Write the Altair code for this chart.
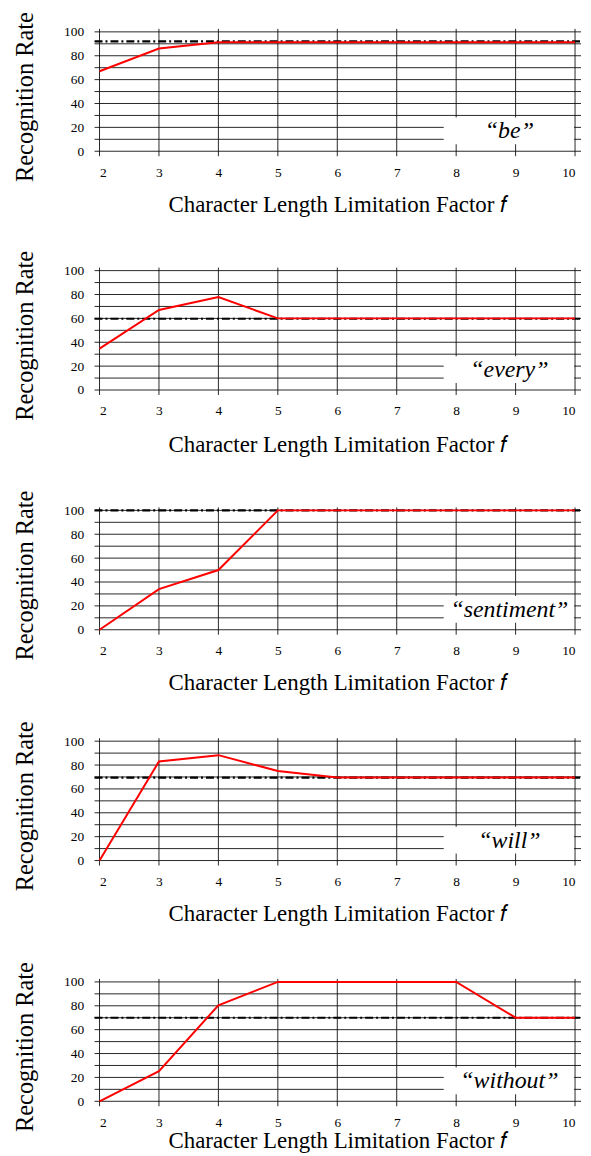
import altair as alt
import pandas as pd

# ---- data ----
f_values = [2, 3, 4, 5, 6, 7, 8, 9, 10]
words = ["be", "every", "sentiment", "will", "without"]
rate_be = [67, 86, 91.3, 91.3, 91.3, 91.3, 91.3, 91.3, 91.3]
rate_every = [34.7, 67, 77.8, 60, 60, 60, 60, 60, 60]
rate_sentiment = [0, 34, 50, 100, 100, 100, 100, 100, 100]
rate_will = [0, 83, 88.3, 75, 69.5, 69.5, 69.5, 69.5, 69.5]
rate_without = [0, 25.2, 80.4, 100, 100, 100, 100, 70, 70]
baselines = [92.1, 59.7, 100, 69.5, 70]
y_grid = [0, 10, 20, 30, 40, 50, 60, 70, 80, 90, 100]
y_tick_labels = [0, 20, 40, 60, 80, 100]

rates = [rate_be, rate_every, rate_sentiment, rate_will, rate_without]

W, H = 478, 120
FONT = "Liberation Serif"
x_title = "Character Length Limitation Factor 𝑓"
title_pads = [15, 16, 15, 15, 1]

xscale = alt.Scale(domain=[2, 10], nice=False, zero=False)
yscale = alt.Scale(domain=[0, 100], nice=False)


def panel(i):
    word = words[i]
    xaxis = alt.Axis(
        values=f_values, title=x_title, ticks=False, domain=False, grid=False,
        labelPadding=14, titlePadding=title_pads[i], titleFontSize=23,
    )
    yaxis = alt.Axis(
        values=y_tick_labels, title="Recognition Rate", ticks=False, domain=False,
        grid=False, labelPadding=16, titlePadding=26, titleFontSize=24.5,
        titleY=H / 2 + 5,
    )
    line_df = pd.DataFrame({"f": f_values, "rate": rates[i]})
    base_df = pd.DataFrame({"rate": [baselines[i]]})
    hgrid_df = pd.DataFrame({"rate": y_grid})
    vgrid_df = pd.DataFrame({"f": f_values})
    lab_df = pd.DataFrame({"label": ["\u201c" + word + "\u201d"]})

    hgrid = alt.Chart(hgrid_df).mark_rule(color="#111", strokeWidth=0.9).encode(
        y=alt.Y("rate:Q", scale=yscale, axis=yaxis),
        x=alt.value(-5), x2=alt.value(W + 6),
    )
    vgrid = alt.Chart(vgrid_df).mark_rule(color="#111", strokeWidth=0.9).encode(
        x=alt.X("f:Q", scale=xscale, axis=xaxis),
        y=alt.value(-3), y2=alt.value(H + 5),
    )
    base = alt.Chart(base_df).mark_rule(
        color="black", strokeWidth=2.2, strokeDash=[8, 3, 2, 3]
    ).encode(
        y=alt.Y("rate:Q", scale=yscale, axis=yaxis),
        x=alt.value(-5), x2=alt.value(W + 6),
    )
    line = alt.Chart(line_df).mark_line(color="#ff0000", strokeWidth=2).encode(
        x=alt.X("f:Q", scale=xscale, axis=xaxis),
        y=alt.Y("rate:Q", scale=yscale, axis=yaxis),
    )
    box = alt.Chart(lab_df).mark_rect(color="white").encode(
        x=alt.value(346), x2=alt.value(W - 1), y=alt.value(86), y2=alt.value(113)
    )
    txt = alt.Chart(lab_df).mark_text(
        font=FONT, fontSize=24, fontStyle="italic", align="center", baseline="middle"
    ).encode(text="label:N", x=alt.value(412), y=alt.value(100))
    return alt.layer(hgrid, vgrid, base, line, box, txt).properties(width=W, height=H)


p = [panel(i) for i in range(5)]
chart = alt.vconcat(
    alt.vconcat(p[0], p[1], p[2], spacing=33),
    alt.vconcat(p[3], p[4], spacing=35),
    spacing=25,
).properties(
    padding={"left": 4, "top": 0, "right": 0, "bottom": 0}
).configure_view(stroke=None).configure_axis(
    labelFont=FONT, labelFontSize=13.5, labelColor="black",
    titleFont=FONT, titleFontWeight="normal", titleColor="black",
)

chart.save("out.html", embed_options={"renderer": "svg", "actions": False})
